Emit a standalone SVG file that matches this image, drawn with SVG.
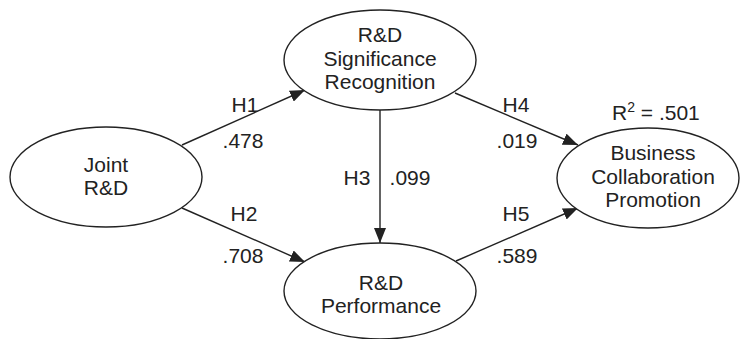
<svg xmlns="http://www.w3.org/2000/svg" width="740" height="339" viewBox="0 0 740 339">
<style>
.node ellipse{fill:#fff;stroke:#222;stroke-width:1.4}
text{font-family:"Liberation Sans",Arial,sans-serif;font-size:21px;fill:#222}
.nt{text-anchor:middle}
.edge{stroke:#222;stroke-width:1.4;fill:none;marker-end:url(#ah)}
.lbl{text-anchor:middle}
</style>
<defs>
<marker id="ah" markerUnits="userSpaceOnUse" markerWidth="16" markerHeight="12" refX="15" refY="6" orient="auto">
<path d="M0,0 L15,6 L0,12 z" fill="#222"/>
</marker>
</defs>
<rect width="740" height="339" fill="#fff"/>
<g id="connectors">
<line class="edge" x1="182" y1="145" x2="305" y2="90"/>
<line class="edge" x1="182" y1="208" x2="305" y2="262"/>
<line class="edge" x1="380" y1="110" x2="380" y2="243"/>
<line class="edge" x1="455" y1="93" x2="578" y2="145"/>
<line class="edge" x1="456" y1="261" x2="578" y2="208"/>
<text class="lbl" x="245" y="112">H1</text>
<text class="lbl" x="243" y="148">.478</text>
<text class="lbl" x="244" y="221">H2</text>
<text class="lbl" x="243" y="263">.708</text>
<text class="lbl" x="357" y="185">H3</text>
<text class="lbl" x="410" y="185">.099</text>
<text class="lbl" x="516" y="112">H4</text>
<text class="lbl" x="517" y="148">.019</text>
<text class="lbl" x="516" y="221">H5</text>
<text class="lbl" x="517" y="263">.589</text>
</g>
<g id="joint" class="node">
<ellipse cx="106" cy="177" rx="96" ry="50"/>
<text class="nt" x="106" y="172">Joint</text>
<text class="nt" x="106" y="195">R&amp;D</text>
</g>
<g id="significance" class="node">
<ellipse cx="380" cy="60" rx="96" ry="50"/>
<text class="nt" x="380" y="42">R&amp;D</text>
<text class="nt" x="380" y="66">Significance</text>
<text class="nt" x="380" y="89">Recognition</text>
</g>
<g id="performance" class="node">
<ellipse cx="380" cy="291" rx="96" ry="48"/>
<text class="nt" x="381" y="290">R&amp;D</text>
<text class="nt" x="381" y="313">Performance</text>
</g>
<g id="business" class="node">
<ellipse cx="648" cy="178" rx="91" ry="50"/>
<text class="nt" x="653" y="160">Business</text>
<text class="nt" x="653" y="184">Collaboration</text>
<text class="nt" x="653" y="207">Promotion</text>
<text x="612" y="120">R<tspan dy="-8" font-size="14">2</tspan><tspan dy="8"> = .501</tspan></text>
</g>
</svg>
